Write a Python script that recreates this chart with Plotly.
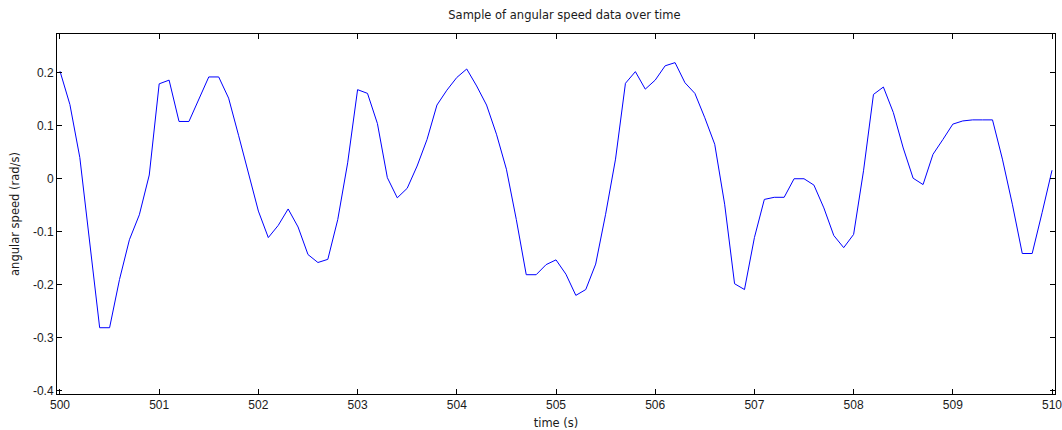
import plotly.graph_objects as go

# sampling times (s), 0.1 s step
time_s = [round(500 + 0.1 * i, 1) for i in range(101)]

# angular speed (rad/s)
speed = [
    0.203, 0.140, 0.040, -0.120, -0.281, -0.281, -0.190, -0.115, -0.068, 0.007,
    0.179, 0.186, 0.108, 0.108, 0.150, 0.192, 0.192, 0.152, 0.082, 0.008,
    -0.061, -0.111, -0.088, -0.057, -0.091, -0.143, -0.158, -0.152, -0.077, 0.030,
    0.168, 0.161, 0.104, 0.002, -0.036, -0.018, 0.024, 0.074, 0.139, 0.167,
    0.191, 0.207, 0.175, 0.139, 0.084, 0.018, -0.077, -0.181, -0.181, -0.162,
    -0.153, -0.180, -0.220, -0.209, -0.161, -0.067, 0.037, 0.180, 0.202, 0.169,
    0.186, 0.213, 0.219, 0.181, 0.161, 0.115, 0.065, -0.048, -0.198, -0.209,
    -0.111, -0.039, -0.035, -0.035, 0.000, 0.000, -0.012, -0.055, -0.107, -0.130,
    -0.105, 0.015, 0.159, 0.173, 0.125, 0.058, 0.001, -0.011, 0.046, 0.074,
    0.103, 0.109, 0.111, 0.111, 0.111, 0.037, -0.048, -0.141, -0.141, -0.064,
    0.016,
]

x_ticks = [500, 501, 502, 503, 504, 505, 506, 507, 508, 509, 510]
x_labels = [str(v) for v in x_ticks]
y_ticks = [-0.4, -0.3, -0.2, -0.1, 0, 0.1, 0.2]
y_labels = ["-0.4", "-0.3", "-0.2", "-0.1", "0", "0.1", "0.2"]

title_text = "Sample of angular speed data over time"
x_title = "time (s)"
y_title = "angular speed (rad/s)"

tick_font = dict(family="Liberation Sans, Arial, sans-serif", size=12, color="#1a1a1a")
label_font = dict(family="DejaVu Sans, sans-serif", size=11.5, color="#1a1a1a")

fig = go.Figure()
fig.add_trace(go.Scatter(
    x=time_s, y=speed, mode="lines",
    line=dict(color="#0000ff", width=1),
    showlegend=False, hoverinfo="skip",
))

axis_common = dict(
    showline=True, linecolor="#000000", linewidth=1, mirror="ticks",
    ticks="inside", ticklen=5, tickwidth=1, tickcolor="#000000",
    showgrid=False, zeroline=False, tickfont=tick_font, automargin=False,
    ticklabeloverflow="allow",
)

fig.update_layout(
    width=1062, height=430,
    margin=dict(l=57, r=7, t=34, b=36, pad=0),
    paper_bgcolor="#ffffff", plot_bgcolor="#ffffff",
    font=tick_font,
    title=dict(text=title_text, x=0.5315, xanchor="center", y=0.966, yanchor="middle",
               font=label_font),
    xaxis=dict(range=[499.97, 510.03], tickvals=x_ticks, ticktext=x_labels,
               title=dict(text=x_title, font=label_font, standoff=8), **axis_common),
    yaxis=dict(range=[-0.406, 0.273], tickvals=y_ticks, ticktext=y_labels,
               title=dict(text=y_title, font=label_font, standoff=10), **axis_common),
)

fig.write_html(
    "out.html",
    config={"displayModeBar": False, "staticPlot": True},
    post_script="document.body.style.margin='0';document.body.style.overflow='hidden';",
)
